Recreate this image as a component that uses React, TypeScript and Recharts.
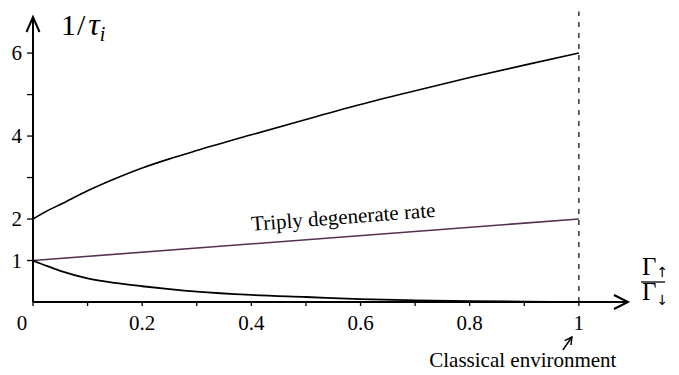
import { LineChart, Line, XAxis, YAxis, ReferenceLine, ReferenceDot } from "recharts";

// Gamma_up / Gamma_down ratio
const ratio = [0, 0.025, 0.05, 0.1, 0.15, 0.2, 0.25, 0.3, 0.4, 0.5, 0.6, 0.7, 0.8, 0.9, 1];
// upper branch 1/tau
const fastRate = [2.0, 2.19, 2.35, 2.68, 2.97, 3.23, 3.45, 3.65, 4.03, 4.4, 4.76, 5.09, 5.41, 5.71, 6.0];
// lower branch 1/tau
const slowRate = [1.0, 0.87, 0.75, 0.57, 0.46, 0.38, 0.31, 0.25, 0.17, 0.12, 0.07, 0.04, 0.02, 0.01, 0.0];
// triply degenerate rate
const tripleRatio = [0, 1];
const tripleRate = [1, 2];

const xTicks = [0, 0.1, 0.2, 0.3, 0.4, 0.5, 0.6, 0.7, 0.8, 0.9, 1];
const xTickLabels = ["0", "", "0.2", "", "0.4", "", "0.6", "", "0.8", "", "1"];
const yTicks = [1, 2, 3, 4, 5, 6];
const yTickLabels = ["1", "2", "", "4", "", "6"];

const X_MAX = 1.09;
const Y_MAX = 6.87;

const FONT = '"Liberation Serif", "DejaVu Serif", serif';
const PURPLE = "#56304f";

const fastData = ratio.map((r, i) => ({ r, v: fastRate[i] }));
const slowData = ratio.map((r, i) => ({ r, v: slowRate[i] }));
const tripleData = tripleRatio.map((r, i) => ({ r, v: tripleRate[i] }));

function findIdx(list: number[], v: number) {
  return list.findIndex((t) => Math.abs(t - v) < 1e-6);
}

function renderXTick(props: any) {
  const { x, y, payload } = props;
  const label = xTickLabels[findIdx(xTicks, payload.value)] || "";
  const shift = payload.value === 0 ? -11 : 0;
  return (
    <g key={`xt-${payload.value}`}>
      <line x1={x} x2={x} y1={y} y2={y + 4} stroke="#000" strokeWidth={1.3} />
      {label && (
        <text x={x + shift} y={y + 28} textAnchor="middle" fontSize={21} fontFamily={FONT} fill="#000">
          {label}
        </text>
      )}
    </g>
  );
}

function renderYTick(props: any) {
  const { x, y, payload } = props;
  const label = yTickLabels[findIdx(yTicks, payload.value)] || "";
  return (
    <g key={`yt-${payload.value}`}>
      <line x1={x - 6} x2={x} y1={y} y2={y} stroke="#000" strokeWidth={1.3} />
      {label && (
        <text x={x - 11} y={y + 7} textAnchor="end" fontSize={21} fontFamily={FONT} fill="#000">
          {label}
        </text>
      )}
    </g>
  );
}

function HorizontalArrow(props: any) {
  const { x1, y1, x2 } = props;
  const tip = Math.max(x1, x2);
  return (
    <g>
      <line x1={Math.min(x1, x2)} x2={tip} y1={y1} y2={y1} stroke="#000" strokeWidth={2} />
      <polyline
        points={`${tip - 14},${y1 - 7} ${tip},${y1} ${tip - 14},${y1 + 7}`}
        fill="none"
        stroke="#000"
        strokeWidth={2}
      />
    </g>
  );
}

function VerticalArrow(props: any) {
  const { x1, y1, y2 } = props;
  const tip = Math.min(y1, y2);
  return (
    <g>
      <line x1={x1} x2={x1} y1={Math.max(y1, y2)} y2={tip} stroke="#000" strokeWidth={2} />
      <polyline
        points={`${x1 - 6.5},${tip + 15} ${x1},${tip} ${x1 + 6.5},${tip + 15}`}
        fill="none"
        stroke="#000"
        strokeWidth={2}
      />
    </g>
  );
}

function TitleMark({ cx, cy }: any) {
  return (
    <text x={cx + 28} y={cy + 18} fontSize={30} fontFamily={FONT} fill="#000">
      1<tspan dx={1}>/</tspan>
      <tspan dx={3} fontStyle="italic" fontSize={32}>τ</tspan>
      <tspan fontStyle="italic" fontSize={20} dy={6}>i</tspan>
    </text>
  );
}

function RatioMark({ cx, cy }: any) {
  return (
    <g fontFamily={FONT} fill="#000">
      <text x={cx + 14} y={cy - 27} fontSize={25}>
        Γ<tspan fontFamily="DejaVu Sans" fontSize={14} dy={2}>↑</tspan>
      </text>
      <line x1={cx + 13} x2={cx + 37} y1={cy - 20} y2={cy - 20} stroke="#000" strokeWidth={1.3} />
      <text x={cx + 14} y={cy - 2} fontSize={25}>
        Γ<tspan fontFamily="DejaVu Sans" fontSize={14} dy={5}>↓</tspan>
      </text>
    </g>
  );
}

function TripleMark({ cx, cy }: any) {
  return (
    <text
      x={cx}
      y={cy - 13}
      textAnchor="middle"
      fontSize={21}
      fontFamily={FONT}
      fill="#000"
      transform={`rotate(-4.35 ${cx} ${cy})`}
    >
      Triply degenerate rate
    </text>
  );
}

function ClassicalMark({ cx, cy }: any) {
  const tx = cx - 7;
  const ty = cy + 35;
  const sx = cx - 16;
  const sy = cy + 48;
  const len = Math.hypot(tx - sx, ty - sy);
  const ux = (tx - sx) / len;
  const uy = (ty - sy) / len;
  const head = (a: number) => {
    const c = Math.cos(a);
    const s = Math.sin(a);
    const dx = ux * c - uy * s;
    const dy = ux * s + uy * c;
    return `${tx - 8 * dx},${ty - 8 * dy}`;
  };
  return (
    <g>
      <line x1={sx} y1={sy} x2={tx} y2={ty} stroke="#000" strokeWidth={1.5} />
      <polyline points={`${head(0.5)} ${tx},${ty} ${head(-0.5)}`} fill="none" stroke="#000" strokeWidth={1.5} />
      <text x={cx - 56} y={cy + 65} textAnchor="middle" fontSize={21} fontFamily={FONT} fill="#000">
        Classical environment
      </text>
    </g>
  );
}

export default function App() {
  return (
    <div style={{ position: "absolute", left: 0, top: 0, width: 679, height: 375, background: "#fff" }}>
      <LineChart width={679} height={375} margin={{ top: 17, right: 51, bottom: 43, left: 3 }}>
        <XAxis
          type="number"
          dataKey="r"
          domain={[0, X_MAX]}
          ticks={xTicks}
          interval={0}
          allowDataOverflow
          axisLine={false}
          tickLine={false}
          tickSize={0}
          tickMargin={0}
          height={30}
          tick={renderXTick}
        />
        <YAxis
          type="number"
          domain={[0, Y_MAX]}
          ticks={yTicks}
          interval={0}
          allowDataOverflow
          axisLine={false}
          tickLine={false}
          tickSize={0}
          tickMargin={0}
          width={30}
          tick={renderYTick}
        />
        <ReferenceLine
          segment={[{ x: 1, y: 0 }, { x: 1, y: 7.0 }]}
          ifOverflow="visible"
          stroke="#000"
          strokeWidth={1.2}
          strokeDasharray="5 6"
        />
        <ReferenceLine y={0} shape={HorizontalArrow} />
        <ReferenceLine x={0} shape={VerticalArrow} />
        <Line
          data={tripleData}
          dataKey="v"
          type="linear"
          stroke={PURPLE}
          strokeWidth={1.6}
          dot={false}
          isAnimationActive={false}
        />
        <Line
          data={fastData}
          dataKey="v"
          type="monotone"
          stroke="#000"
          strokeWidth={1.6}
          dot={false}
          isAnimationActive={false}
        />
        <Line
          data={slowData}
          dataKey="v"
          type="monotone"
          stroke="#000"
          strokeWidth={1.8}
          dot={false}
          isAnimationActive={false}
        />
        <ReferenceDot x={0.571} y={1.571} r={0} ifOverflow="visible" shape={TripleMark} />
        <ReferenceDot x={0} y={Y_MAX} r={0} ifOverflow="visible" shape={TitleMark} />
        <ReferenceDot x={X_MAX} y={0} r={0} ifOverflow="visible" shape={RatioMark} />
        <ReferenceDot x={1} y={0} r={0} ifOverflow="visible" shape={ClassicalMark} />
      </LineChart>
    </div>
  );
}
